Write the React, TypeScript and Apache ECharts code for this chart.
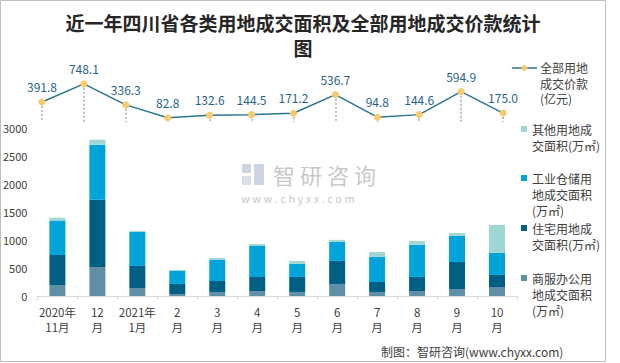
import React, { useEffect, useRef } from "react";
import * as echarts from "echarts";

const categories = ["2020年\n11月", "12\n月", "2021年\n1月", "2\n月", "3\n月", "4\n月", "5\n月", "6\n月", "7\n月", "8\n月", "9\n月", "10\n月"];
const commercial = [197, 519, 143, 36, 72, 89, 72, 215, 72, 89, 125, 161];
const residential = [537, 1199, 394, 179, 196, 251, 268, 411, 178, 251, 483, 215];
const industrial = [614, 984, 608, 232, 376, 555, 233, 340, 448, 573, 466, 393];
const other = [48, 89, 18, 18, 36, 35, 53, 36, 89, 71, 53, 501];
const price = [391.8, 748.1, 336.3, 82.8, 132.6, 144.5, 171.2, 536.7, 94.8, 144.6, 594.9, 175.0];

const titleText = "近一年四川省各类用地成交面积及全部用地成交价款统计\n图";
const lineName = "全部用地成交价款(亿元)";
const lineLegend = "全部用地\n成交价款\n(亿元)";
const barNames = ["商服办公用地成交面积(万㎡)", "住宅用地成交面积(万㎡)", "工业仓储用地成交面积(万㎡)", "其他用地成交面积(万㎡)"];
const barLegends = ["商服办公用\n地成交面积\n(万㎡)", "住宅用地成\n交面积(万㎡)", "工业仓储用\n地成交面积\n(万㎡)", "其他用地成\n交面积(万㎡)"];
const barColors = ["#5E8FA6", "#005F85", "#00A3DA", "#A0D6D4"];
const legendY = [278, 228, 178, 129];
const footer = "制图：智研咨询(www.chyxx.com)";
const watermarkChars = ["智", "研", "咨", "询"];
const watermarkUrl = "w w w . c h y x x . c o m";

const FONT = "'Noto Sans CJK SC', 'Noto Sans', sans-serif";
const LINE_COLOR = "#2A7494";
const DOT_COLOR = "#F6CB6E";
const TEXT = "#404040";

export default function App() {
  const ref = useRef<HTMLDivElement>(null);
  useEffect(() => {
    document.body.style.margin = "0";
    if (!ref.current) return;
    const chart = echarts.init(ref.current, null, { renderer: "svg" });
    const barData = [commercial, residential, industrial, other];
    const legendGraphics: any[] = [];
    legendGraphics.push({ type: "line", shape: { x1: 512, y1: 68, x2: 537, y2: 68 }, style: { stroke: LINE_COLOR, lineWidth: 1.5 } });
    legendGraphics.push({ type: "circle", shape: { cx: 524.5, cy: 68, r: 3 }, style: { fill: DOT_COLOR } });
    legendGraphics.push({ type: "text", x: 540, y: 60, style: { text: lineLegend, font: `12px ${FONT}`, fill: TEXT, lineHeight: 15.5, verticalAlign: "top" } });
    barLegends.forEach((t, i) => {
      legendGraphics.push({ type: "rect", shape: { x: 521, y: legendY[i] - 3, width: 6, height: 6 }, style: { fill: barColors[i] } });
      legendGraphics.push({ type: "text", x: 532, y: legendY[i] - 8, style: { text: t, font: `12px ${FONT}`, fill: TEXT, lineHeight: 16, verticalAlign: "top" } });
    });
    const watermark: any[] = watermarkChars.map((c, i) => ({
      type: "text",
      x: 273 + i * 27,
      y: 174,
      z: -1,
      style: { text: c, font: `22px ${FONT}`, fill: "#C9C9C9", verticalAlign: "middle" },
    }));
    watermark.push({ type: "text", x: 241, y: 198, z: -1, style: { text: watermarkUrl, font: `11px ${FONT}`, fill: "#C9C9C9", verticalAlign: "middle" } });
    watermark.push({ type: "rect", shape: { x: 242, y: 164, width: 9, height: 9 }, style: { fill: "#CDD5E2" }, z: -1 });
    watermark.push({ type: "rect", shape: { x: 254, y: 164, width: 10, height: 21 }, style: { fill: "#CDD5E2" }, z: -1 });
    watermark.push({ type: "rect", shape: { x: 242, y: 176, width: 9, height: 9 }, style: { fill: "#D9DFE8" }, z: -1 });

    chart.setOption({
      animation: false,
      backgroundColor: "#fff",
      title: {
        text: titleText,
        left: 303,
        textAlign: "center",
        top: 10,
        padding: 0,
        textStyle: { fontFamily: FONT, fontSize: 19, fontWeight: "bold", color: "#262626", lineHeight: 25, align: "center" },
      },
      grid: [
        { left: 37, right: 103, top: 128, bottom: 67 },
        { left: 21, width: 503, top: 71, height: 51 },
      ],
      xAxis: [
        {
          type: "category",
          gridIndex: 0,
          data: categories,
          axisLine: { lineStyle: { color: "#D9D9D9" } },
          axisTick: { show: true, length: 4, lineStyle: { color: "#D9D9D9" } },
          axisLabel: { color: TEXT, fontFamily: FONT, fontSize: 11.5, lineHeight: 15.5, margin: 8, interval: 0 },
        },
        { type: "category", gridIndex: 1, data: categories, show: false },
      ],
      yAxis: [
        {
          type: "value",
          gridIndex: 0,
          min: 0,
          max: 3000,
          interval: 500,
          splitLine: { show: false },
          axisLine: { show: false },
          axisTick: { show: false },
          axisLabel: { color: TEXT, fontFamily: FONT, fontSize: 11, margin: 10, formatter: (v: number) => String(v) },
        },
        { type: "value", gridIndex: 1, min: 0, max: 1000, show: false, splitLine: { show: false } },
      ],
      series: [
        ...barNames.map((name, i) => ({
          name,
          type: "bar",
          stack: "area",
          xAxisIndex: 0,
          yAxisIndex: 0,
          barWidth: 16,
          itemStyle: { color: barColors[i] },
          data: barData[i],
        })),
        {
          name: lineName,
          type: "line",
          xAxisIndex: 1,
          yAxisIndex: 1,
          data: price,
          symbol: "circle",
          symbolSize: 7,
          itemStyle: { color: DOT_COLOR },
          lineStyle: { color: LINE_COLOR, width: 1.5 },
          z: 5,
          label: {
            show: true,
            position: "top",
            distance: 6,
            color: "#1F6490",
            fontFamily: FONT,
            fontSize: 12,
            formatter: (p: any) => Number(p.value).toFixed(1),
          },
          markLine: {
            silent: true,
            symbol: "none",
            label: { show: false },
            lineStyle: { type: "dotted", color: "#C0C0C0", width: 2 },
            data: price.map((v, i) => [{ coord: [i, v] }, { coord: [i, 0] }]),
          },
        },
      ],
      graphic: [
        { type: "rect", shape: { x: 0.5, y: 0.5, width: 605, height: 361 }, style: { fill: "none", stroke: "#BFBFBF", lineWidth: 1 }, z: -1 },
        ...watermark,
        ...legendGraphics,
        { type: "text", x: 381, y: 351, style: { text: footer, font: `12px ${FONT}`, fill: TEXT, verticalAlign: "middle" } },
      ],
    });
    return () => chart.dispose();
  }, []);
  return <div ref={ref} style={{ width: 620, height: 363 }} />;
}
